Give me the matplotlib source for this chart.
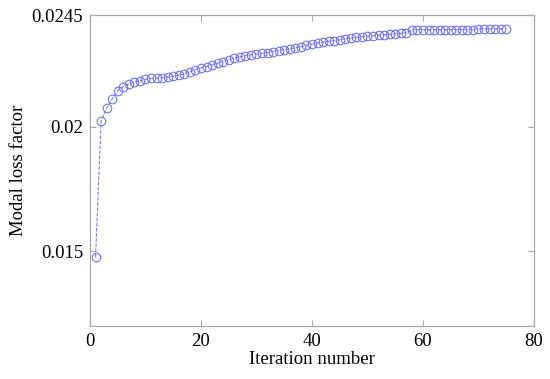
import numpy as np
import matplotlib
matplotlib.use("Agg")
import matplotlib.pyplot as plt

# iteration index and modal loss factor
iterations = list(range(1, 76))
loss_factor = [
    0.01476, 0.02024, 0.02076, 0.02113, 0.02146, 0.02162, 0.02173, 0.02180,
    0.02186, 0.02192, 0.02195, 0.02197, 0.02198, 0.02200, 0.02203, 0.02207,
    0.02213, 0.02222, 0.02230, 0.02238, 0.02243, 0.02249, 0.02256, 0.02263,
    0.02270, 0.02276, 0.02282, 0.02287, 0.02290, 0.02293, 0.02296, 0.02299,
    0.02303, 0.02307, 0.02310, 0.02314, 0.02318, 0.02323, 0.02328, 0.02333,
    0.02338, 0.02341, 0.02344, 0.02347, 0.02351, 0.02354, 0.02357, 0.02360,
    0.02363, 0.02365, 0.02367, 0.02369, 0.02371, 0.02372, 0.02374, 0.02376,
    0.02379, 0.02390, 0.02391, 0.02391, 0.02391, 0.02391, 0.02391, 0.02391,
    0.02391, 0.02391, 0.02391, 0.02391, 0.02391, 0.02394, 0.02394, 0.02394,
    0.02394, 0.02394, 0.02394,
]
x_ticks = [0, 20, 40, 60, 80]
y_ticks = [0.015, 0.02, 0.0245]
y_tick_labels = ["0.015", "0.02", "0.0245"]

plt.rcParams["font.family"] = ["Liberation Serif", "DejaVu Serif"]

fig = plt.figure(figsize=(5.5, 3.79), dpi=100)
ax = fig.add_axes([0.1636, 0.1398, 0.8073, 0.8206])

ax.plot(iterations, loss_factor, linestyle="--", linewidth=0.7, color="#6a6aff",
        marker="o", markersize=6.2, markerfacecolor="none",
        markeredgecolor="#6a6aff", markeredgewidth=0.75)

ax.set_xlim(0, 80)
ax.set_ylim(0.012, 0.0245)
ax.set_xticks(x_ticks)
ax.set_yticks(y_ticks)
ax.set_yticklabels(y_tick_labels)

for s in ax.spines.values():
    s.set_color("#a8a8a8")
    s.set_linewidth(0.9)
ax.tick_params(direction="in", top=True, right=True, length=4,
               color="#a8a8a8", labelsize=13.5, labelcolor="black", pad=5)

ax.set_xlabel("Iteration number", fontsize=13.5, labelpad=1)
ax.set_ylabel("Modal loss factor", fontsize=13.5, labelpad=3)

fig.savefig("out.png", dpi=100)
